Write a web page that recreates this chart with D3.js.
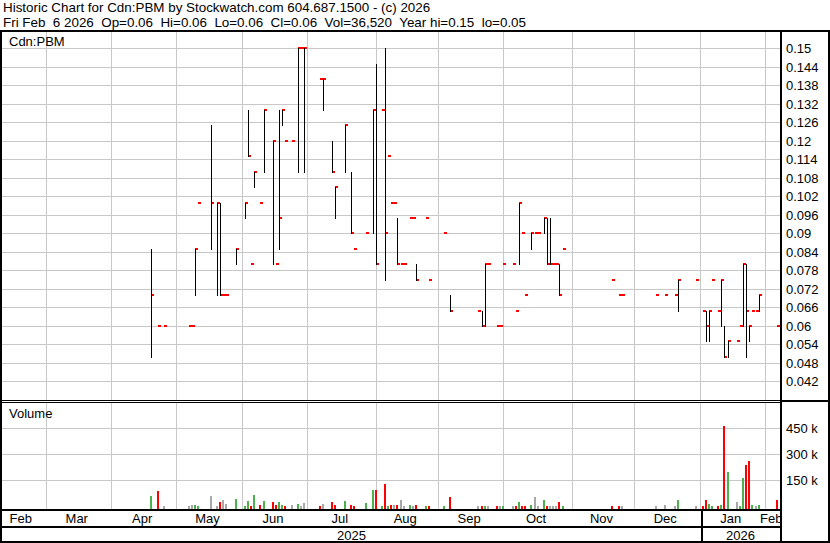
<!DOCTYPE html>
<html><head><meta charset="utf-8">
<script src="https://cdnjs.cloudflare.com/ajax/libs/d3/7.8.5/d3.min.js"></script>
<style>html,body{margin:0;padding:0;background:#fff}svg{display:block}text{white-space:pre}</style>
</head><body><div id="chart"></div>
<script>
// ---------------- data ----------------
const titleLine1 = "Historic Chart for Cdn:PBM by Stockwatch.com 604.687.1500 - (c) 2026";
const titleLine2 = "Fri Feb  6 2026  Op=0.06  Hi=0.06  Lo=0.06  Cl=0.06  Vol=36,520  Year hi=0.15  lo=0.05";
const symbolLabel = "Cdn:PBM";
const volumeLabel = "Volume";
const firstDay = "2025-02-07";
const lastDay = "2026-02-06";
const holidays = ["2025-02-17","2025-04-18","2025-05-19","2025-07-01","2025-08-04","2025-09-01","2025-10-13","2025-12-25","2025-12-26","2026-01-01"];
const monthNames = ["Jan","Feb","Mar","Apr","May","Jun","Jul","Aug","Sep","Oct","Nov","Dec"];
const priceTicks = [0.042,0.048,0.054,0.06,0.066,0.072,0.078,0.084,0.09,0.096,0.102,0.108,0.114,0.12,0.126,0.132,0.138,0.144,0.15];
const volumeTicks = [150000,300000,450000];
const volumeTickLabels = ["150 k","300 k","450 k"];

const dates = ["2025-04-21","2025-04-23","2025-04-25","2025-05-07","2025-05-08","2025-05-09","2025-05-12","2025-05-16","2025-05-21","2025-05-22","2025-05-23","2025-05-26","2025-05-29",
"2025-06-03","2025-06-04","2025-06-05","2025-06-06","2025-06-10","2025-06-11","2025-06-16","2025-06-17","2025-06-18","2025-06-19","2025-06-20","2025-06-24","2025-06-26","2025-06-27","2025-06-30",
"2025-07-08","2025-07-09","2025-07-14","2025-07-15","2025-07-18","2025-07-22","2025-07-23","2025-07-29","2025-07-31",
"2025-08-01","2025-08-06","2025-08-07","2025-08-08","2025-08-11","2025-08-12","2025-08-13","2025-08-14","2025-08-15","2025-08-19","2025-08-20","2025-08-21","2025-08-26","2025-08-27",
"2025-09-04","2025-09-08","2025-09-19","2025-09-22","2025-09-23","2025-09-24","2025-09-29","2025-09-30",
"2025-10-01","2025-10-06","2025-10-07","2025-10-08","2025-10-09","2025-10-10","2025-10-15","2025-10-16","2025-10-17","2025-10-21","2025-10-22","2025-10-23","2025-10-24","2025-10-27","2025-10-28","2025-10-29",
"2025-11-20","2025-11-24","2025-11-25",
"2025-12-10","2025-12-15","2025-12-18","2025-12-19","2025-12-31",
"2026-01-05","2026-01-06","2026-01-07","2026-01-08","2026-01-12","2026-01-13","2026-01-14","2026-01-15","2026-01-20","2026-01-21","2026-01-22","2026-01-23","2026-01-26","2026-01-27","2026-01-28","2026-01-29",
"2026-02-06"];
const highs = [0.085,0.06,0.06,0.06,0.06,0.085,0.10,0.125,0.10,0.10,0.07,0.07,0.085,
0.10,0.13,0.08,0.11,0.10,0.13,0.12,0.08,0.13,0.13,0.12,0.12,0.15,0.15,0.15,
0.14,0.14,0.12,0.105,0.125,0.11,0.085,0.09,0.13,
0.145,0.13,0.15,0.115,0.10,0.10,0.095,0.08,0.08,0.095,0.095,0.08,0.095,0.075,
0.09,0.07,0.065,0.065,0.08,0.08,0.06,0.06,
0.08,0.08,0.065,0.10,0.09,0.07,0.09,0.09,0.09,0.095,0.095,0.095,0.08,0.08,0.08,0.085,
0.075,0.07,0.07,
0.07,0.07,0.07,0.075,0.075,
0.065,0.065,0.065,0.075,0.065,0.075,0.06,0.055,0.055,0.06,0.08,0.08,0.06,0.065,0.065,0.07,
0.06];
const lows = [0.05,0.06,0.06,0.06,0.06,0.07,0.10,0.085,0.07,0.07,0.07,0.07,0.08,
0.095,0.115,0.08,0.105,0.10,0.11,0.08,0.08,0.085,0.125,0.12,0.12,0.11,0.15,0.11,
0.14,0.13,0.11,0.095,0.11,0.09,0.085,0.09,0.09,
0.08,0.13,0.075,0.115,0.10,0.10,0.08,0.08,0.08,0.095,0.095,0.075,0.095,0.075,
0.09,0.065,0.065,0.06,0.06,0.08,0.06,0.06,
0.08,0.08,0.065,0.08,0.09,0.07,0.085,0.09,0.09,0.09,0.08,0.08,0.08,0.08,0.07,0.085,
0.075,0.07,0.07,
0.07,0.07,0.07,0.065,0.075,
0.065,0.055,0.055,0.075,0.065,0.06,0.05,0.05,0.055,0.06,0.06,0.05,0.055,0.065,0.065,0.065,
0.06];
const closes = [0.07,0.06,0.06,0.06,0.06,0.085,0.10,0.10,0.10,0.07,0.07,0.07,0.085,
0.10,0.115,0.08,0.11,0.10,0.13,0.12,0.08,0.095,0.13,0.12,0.12,0.15,0.15,0.15,
0.14,0.14,0.11,0.105,0.125,0.09,0.085,0.09,0.13,
0.08,0.13,0.09,0.115,0.10,0.10,0.08,0.08,0.08,0.095,0.095,0.075,0.095,0.075,
0.09,0.065,0.065,0.06,0.08,0.08,0.06,0.06,
0.08,0.08,0.065,0.10,0.09,0.07,0.09,0.09,0.09,0.095,0.08,0.08,0.08,0.08,0.07,0.085,
0.075,0.07,0.07,
0.07,0.07,0.07,0.075,0.075,
0.065,0.06,0.065,0.075,0.065,0.075,0.05,0.055,0.055,0.06,0.08,0.065,0.06,0.065,0.065,0.07,
0.06];
const volumes = [59000,88000,2000,4000,5000,6000,4000,59000,3000,25000,36000,13000,42000,
3000,30000,3000,65000,7000,30000,25000,5000,25000,5000,3000,5000,13000,4000,19000,
4000,13000,25000,5000,30000,5000,4000,19000,94000,
94000,4000,128000,4000,5000,5000,5000,36000,4000,7000,3000,5000,3000,3000,
3000,54000,3000,3000,3000,3000,4000,4000,
3000,3000,4000,25000,4000,4000,5000,54000,4000,36000,4000,4000,3000,3000,25000,3000,
3000,3000,3000,
3000,7000,3000,36000,3000,
3000,36000,13000,3000,3000,5000,463000,198000,25000,3000,163000,238000,261000,5000,3000,5000,
36520];

// ---------------- layout ----------------
const W = 830, H = 543;
const plotL = 2, plotR = 780;
const priceTop = 32, priceBot = 400;
const volTop = 403, volBot = 509;

const parse = d3.timeParse("%Y-%m-%d");
const fmt = d3.timeFormat("%Y-%m-%d");
const holidaySet = new Set(holidays);
const tradingDays = d3.timeDay.range(parse(firstDay), d3.timeDay.offset(parse(lastDay), 1))
  .filter(d => d.getDay() !== 0 && d.getDay() !== 6 && !holidaySet.has(fmt(d)))
  .map(fmt);

const x = d3.scalePoint().domain(tradingDays).range([-1.1, 777.4]);
const y = d3.scaleLinear().domain([0.036, 0.1556]).range([400, 31]);
const yv = d3.scaleLinear().domain([0, 600000]).range([506.3, 402.3]);

const rows = dates.map((d, i) => ({date: d, hi: highs[i], lo: lows[i], close: closes[i], vol: volumes[i],
  dir: i === 0 ? 1 : Math.sign(Math.round((closes[i] - closes[i-1]) * 10000))}));

const svg = d3.select("#chart").append("svg").attr("width", W).attr("height", H)
  .style("font-family", "'Liberation Sans', Arial, sans-serif").style("font-size", "13px");
svg.append("rect").attr("width", W).attr("height", H).attr("fill", "#fff");

const defs = svg.append("defs");
defs.append("clipPath").attr("id", "pclip").append("rect").attr("x", plotL).attr("y", priceTop).attr("width", plotR - plotL).attr("height", priceBot - priceTop);
defs.append("clipPath").attr("id", "vclip").append("rect").attr("x", plotL).attr("y", volTop).attr("width", plotR - plotL).attr("height", volBot - volTop);
defs.append("clipPath").attr("id", "aclip").append("rect").attr("x", plotL).attr("y", volBot).attr("width", plotR - plotL).attr("height", H - volBot);

// header
svg.append("text").attr("x", 3).attr("y", 12).style("font-size", "13.4px").attr("xml:space", "preserve").text(titleLine1);
svg.append("text").attr("x", 3).attr("y", 27).style("font-size", "13.4px").attr("xml:space", "preserve").text(titleLine2);

// month boundaries
const months = d3.groups(tradingDays, d => d.slice(0, 7));
const monthStarts = months.slice(1).map(m => m[1][0]);
const gridColor = "#c8c8c8";
const snap = v => Math.round(v) + 0.5;

const grid = svg.append("g").attr("stroke", gridColor).attr("stroke-width", 1);
priceTicks.forEach(t => grid.append("line").attr("x1", plotL).attr("x2", plotR).attr("y1", snap(y(t))).attr("y2", snap(y(t))));
volumeTicks.forEach(t => grid.append("line").attr("x1", plotL).attr("x2", plotR).attr("y1", snap(yv(t))).attr("y2", snap(yv(t))));
monthStarts.forEach(d => {
  grid.append("line").attr("x1", snap(x(d))).attr("x2", snap(x(d))).attr("y1", priceTop).attr("y2", priceBot);
  grid.append("line").attr("x1", snap(x(d))).attr("x2", snap(x(d))).attr("y1", volTop).attr("y2", volBot);
});

// panel labels
svg.append("text").attr("x", 9).attr("y", 46).text(symbolLabel);
svg.append("text").attr("x", 9).attr("y", 418).text(volumeLabel);

// price marks
const pg = svg.append("g").attr("clip-path", "url(#pclip)");
pg.selectAll("rect.cl").data(rows).join("rect").attr("class", "cl")
  .attr("x", d => Math.round(x(d.date))).attr("width", 3)
  .attr("y", d => Math.round(y(d.close)) - 1).attr("height", 2).attr("fill", "#ff0000");
pg.selectAll("line.hl").data(rows.filter(d => d.hi > d.lo)).join("line").attr("class", "hl")
  .attr("x1", d => snap(x(d.date))).attr("x2", d => snap(x(d.date)))
  .attr("y1", d => Math.round(y(d.hi))).attr("y2", d => Math.round(y(d.lo)) + 1)
  .attr("stroke", "#000").attr("stroke-width", 1);

// volume bars
const colorOf = d => d.dir > 0 ? "#4cb04c" : d.dir < 0 ? "#ff0000" : "#a8a8a8";
svg.append("g").attr("clip-path", "url(#vclip)").selectAll("rect").data(rows).join("rect")
  .attr("x", d => Math.round(x(d.date)) - 1).attr("width", 2)
  .attr("y", d => Math.round(yv(d.vol))).attr("height", d => volBot - Math.round(yv(d.vol)))
  .attr("fill", colorOf);

// frame
const black = (x0, y0, w, h) => svg.append("rect").attr("x", x0).attr("y", y0).attr("width", w).attr("height", h).attr("fill", "#000");
black(0, 30, W, 2);
black(0, 30, 2, H - 30);
black(828, 30, 2, H - 30);
black(0, 541, W, 2);
black(780, 30, 2, H - 30);
black(0, 400, 780, 1);
black(0, 402, 780, 1);
black(780, 400, 50, 2);
black(0, 509, 780, 2);
black(0, 526, 780, 2);
const yearBoundary = Math.round(x(tradingDays.find(d => d.startsWith("2026")))) + 1;
black(yearBoundary, 509, 2, H - 509);

// month labels
const ag = svg.append("g").attr("clip-path", "url(#aclip)").attr("text-anchor", "middle");
months.forEach(([key, days]) => {
  const m = +key.slice(5, 7) - 1;
  const cx = (x(days[0]) + x(days[days.length - 1])) / 2;
  ag.append("text").attr("x", cx).attr("y", 523).text(monthNames[m]);
});
// year labels
const years = d3.groups(tradingDays, d => d.slice(0, 4));
years.forEach(([yr, days]) => {
  const a = Math.max(plotL, x(days[0]));
  const b = yr === "2025" ? yearBoundary : plotR;
  const a2 = yr === "2025" ? a : yearBoundary;
  ag.append("text").attr("x", (a2 + b) / 2).attr("y", 540).text(yr);
});

// price axis labels
const pl = svg.append("g");
priceTicks.forEach(t => pl.append("text").attr("x", 786).attr("y", y(t) + 5).text(String(+t.toFixed(3))));
volumeTicks.forEach((t, i) => pl.append("text").attr("x", 786).attr("y", yv(t) + 5).text(volumeTickLabels[i]));
</script></body></html>
